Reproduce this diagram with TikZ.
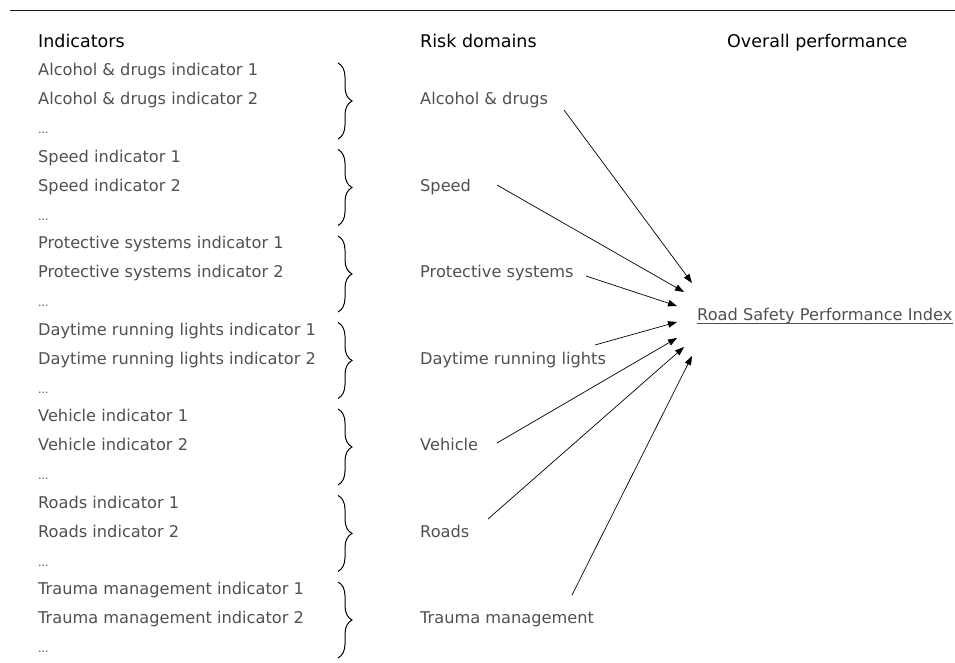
\documentclass[tikz,border=0pt]{standalone}
\usepackage{fontspec}
\setmainfont{DejaVu Sans}
\usetikzlibrary{arrows.meta,decorations.pathreplacing}
\definecolor{txt}{HTML}{505050}
\tikzset{
  item/.style={anchor=base west,inner sep=0pt,text=txt,font=\fontsize{16.2}{18}\selectfont},
  head/.style={anchor=base west,inner sep=0pt,text=black,font=\fontsize{17.5}{20}\selectfont},
  dots/.style={anchor=base west,inner sep=0pt,text=txt,font=\fontsize{11}{13}\selectfont},
  bracestyle/.style={draw=black,line width=1pt,decorate,decoration={brace,amplitude=14pt,aspect=0.5}},
  arr/.style={draw=black,line width=0.7pt,-{Triangle[length=9pt,width=6.5pt]}},
}
\begin{document}
\begin{tikzpicture}[x=1pt,y=-1pt]
\useasboundingbox (0,0) rectangle (955,663);
\draw[line width=1.1pt,black!90] (10,10.5) -- (955,10.5);
\node[head] (hInd) at (38,47.2) {Indicators};
\node[head] (hRisk) at (420,47.2) {Risk domains};
\node[head] (hOver) at (727,47.2) {Overall performance};
\def\ls{28.83}
\foreach \name/\lab/\k in {alc/Alcohol \& drugs indicator/0,spd/Speed indicator/1,pro/Protective systems indicator/2,day/Daytime running lights indicator/3,veh/Vehicle indicator/4,roa/Roads indicator/5,tra/Trauma management indicator/6}{
  \pgfmathsetmacro{\yA}{76+\k*3*\ls}
  \pgfmathsetmacro{\yB}{\yA+\ls}
  \pgfmathsetmacro{\yC}{\yA+2*\ls}
  \pgfmathsetmacro{\bt}{63+\k*3*\ls}
  \pgfmathsetmacro{\bb}{139+\k*3*\ls}
  \node[item] (\name1) at (38,\yA) {\lab\ 1};
  \node[item] (\name2) at (38,\yB) {\lab\ 2};
  \node[dots] (\name3) at (38,\yC) {...};
  \coordinate (\name bt) at (338,\bt);
  \coordinate (\name bb) at (338,\bb);
  \draw[bracestyle] (\name bt) -- (\name bb);
}
\node[item] (dAlc) at (420,104.8) {Alcohol \& drugs};
\node[item] (dSpd) at (420,191.3) {Speed};
\node[item] (dPro) at (420,277.8) {Protective systems};
\node[item] (dDay) at (420,364.3) {Daytime running lights};
\node[item] (dVeh) at (420,450.8) {Vehicle};
\node[item] (dRoa) at (420,537.3) {Roads};
\node[item] (dTra) at (420,623.8) {Trauma management};
\node[item,text=txt] (rspi) at (697,320) {Road Safety Performance Index};
\draw[txt,line width=0.8pt] (rspi.base west) ++(0,3.2) -- ([yshift=-3.2pt]rspi.base east);
\coordinate (sAlc) at (564,110);
\coordinate (sSpd) at (497,185);
\coordinate (sPro) at (586,276);
\coordinate (sDay) at (595,345);
\coordinate (sVeh) at (497,443);
\coordinate (sRoa) at (488,519);
\coordinate (sTra) at (572,595);
\coordinate (eAlc) at (692,283);
\coordinate (eSpd) at (684,292);
\coordinate (ePro) at (677,306);
\coordinate (eDay) at (677,322);
\coordinate (eVeh) at (677,338);
\coordinate (eRoa) at (684,347);
\coordinate (eTra) at (692,356);
\foreach \n in {Alc,Spd,Pro,Day,Veh,Roa,Tra}{
  \draw[arr] (s\n) -- (e\n);
}
\end{tikzpicture}
\end{document}
